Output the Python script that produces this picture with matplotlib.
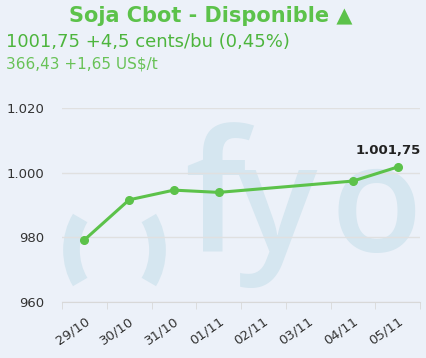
import numpy as np
import matplotlib
matplotlib.use("Agg")
import matplotlib.pyplot as plt
from matplotlib.patches import Arc

# data (no quotes on 02/11 and 03/11)
dates = ["29/10", "30/10", "31/10", "01/11", "02/11", "03/11", "04/11", "05/11"]
prices = [979.2, 991.6, 994.6, 993.9, np.nan, np.nan, 997.4, 1001.75]
y_ticks = [960, 980, 1000, 1020]
y_tick_labels = ["960", "980", "1.000", "1.020"]
last_label = "1.001,75"

title = "Soja Cbot - Disponible \u25B2"
line2 = "1001,75 +4,5 cents/bu (0,45%)"
line3 = "366,43 +1,65 US$/t"

bg = "#ECF1F9"
green = "#5CC24A"
wm = "#D5E6F0"

fig = plt.figure(figsize=(4.26, 3.58), dpi=100)
fig.patch.set_facecolor(bg)

# watermark layer in pixel coordinates, clipped at the plot's right edge
wax = fig.add_axes([0, 0, 420 / 426, 1], zorder=0)
wax.set_xlim(0, 420)
wax.set_ylim(358, 0)
wax.axis("off")
wax.add_patch(Arc((114.5, 250), 86, 106, theta1=137, theta2=223,
                  lw=12, color=wm, capstyle="butt"))
wax.add_patch(Arc((114.5, 250), 86, 106, theta1=-43, theta2=43,
                  lw=12, color=wm, capstyle="butt"))
for ch, xp, fs in [("f", 184, 122), ("y", 236, 108), ("o", 330, 108)]:
    wax.text(xp, 252, ch, fontsize=fs, color=wm, ha="left", va="baseline",
             family="Open Sans", fontweight="semibold", clip_on=True)

ax = fig.add_axes([62 / 426, 1 - 302 / 358, 358 / 426, 194 / 358], zorder=1)
ax.set_facecolor("none")

x = np.arange(len(dates))
y = np.array(prices)
ok = ~np.isnan(y)
ax.plot(x[ok], y[ok], color=green, lw=2.2, marker="o", markersize=5.5,
        clip_on=False, zorder=3)

ax.annotate(last_label, (x[-1], y[-1]), xytext=(-9, 17), textcoords="offset pixels",
            ha="center", va="center", fontsize=9.5, fontweight="bold", color="#222222")

ax.set_xlim(-0.5, len(dates) - 0.5)
ax.set_ylim(960, 1020)
ax.set_yticks(y_ticks)
ax.set_yticklabels(y_tick_labels)
ax.set_xticks(x)
ax.set_xticklabels(dates, rotation=35, ha="right", va="top", rotation_mode="anchor")
ax.set_xticks(np.arange(-0.5, len(dates)), minor=True)
ax.tick_params(axis="x", which="major", length=0, pad=9, labelsize=9.5, colors="#333333")
ax.tick_params(axis="x", which="minor", length=5, color="#D8D8D8")
ax.tick_params(axis="y", length=0, pad=13, labelsize=9.5, colors="#333333")

ax.grid(axis="y", color="#E0E0E0", lw=1)
for s in ["top", "right", "left"]:
    ax.spines[s].set_visible(False)
ax.spines["bottom"].set_color("#D8D8D8")

fig.text(0.495, 1 - 16 / 358, title, ha="center", va="center", fontsize=15,
         fontweight="bold", color=green)
fig.text(6 / 426, 1 - 42 / 358, line2, ha="left", va="center", fontsize=13,
         color="#4DB53D")
fig.text(6 / 426, 1 - 64 / 358, line3, ha="left", va="center", fontsize=11,
         color="#68C257")

fig.savefig("out.png", dpi=100, facecolor=bg)
